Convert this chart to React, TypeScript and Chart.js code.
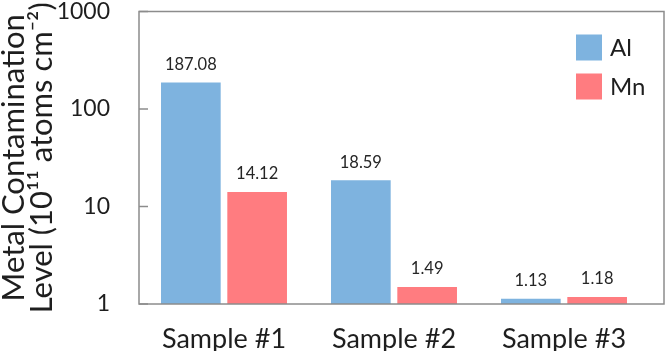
import React, { useEffect, useRef } from "react";
import { Chart, registerables } from "chart.js";

Chart.register(...registerables);

const categories = ["Sample #1", "Sample #2", "Sample #3"];
const alValues = [187.08, 18.59, 1.13];
const mnValues = [14.12, 1.49, 1.18];
const yTicks = [1, 10, 100, 1000];
const seriesNames = ["Al", "Mn"];
const seriesColors = ["#7EB3DF", "#FF7C80"];
const yTitle = ["Metal Contamination", "Level (10\u00B9\u00B9 atoms cm\u207B\u00B2)"];

const FONT = "Lato, 'DejaVu Sans', sans-serif";
const TEXT = "#1e1e1e";

const overlay = {
  id: "overlay",
  afterDatasetsDraw(chart: any) {
    const ctx = chart.ctx;
    const { left, top, bottom } = chart.chartArea;
    ctx.save();
    // plot border
    ctx.strokeStyle = "#8c8c8c";
    ctx.lineWidth = 1.5;
    const borderRight = chart.width - 3;
    ctx.strokeRect(left, top, borderRight - left, bottom - top);
    // inward ticks on the y axis
    const ys = chart.scales.y;
    yTicks.forEach((v) => {
      const py = ys.getPixelForValue(v);
      ctx.beginPath();
      ctx.moveTo(left, py);
      ctx.lineTo(left + 9, py);
      ctx.stroke();
    });
    // data labels
    ctx.font = `16.5px ${FONT}`;
    ctx.fillStyle = "#262626";
    ctx.textAlign = "center";
    ctx.textBaseline = "middle";
    chart.data.datasets.forEach((ds: any, i: number) => {
      const meta = chart.getDatasetMeta(i);
      meta.data.forEach((bar: any, j: number) => {
        ctx.fillText(Number(ds.data[j]).toFixed(2), bar.x, bar.y - 18);
      });
    });
    // legend
    const lx = borderRight - 88;
    const ly = top + 23;
    ctx.font = `24px ${FONT}`;
    ctx.textAlign = "left";
    seriesNames.forEach((name, i) => {
      const y0 = ly + i * 39;
      ctx.fillStyle = seriesColors[i];
      ctx.fillRect(lx, y0, 26, 26);
      ctx.fillStyle = TEXT;
      ctx.fillText(name, lx + 34, y0 + 14);
    });
    ctx.restore();
  },
};

export default function App() {
  const ref = useRef<HTMLCanvasElement | null>(null);
  useEffect(() => {
    if (!ref.current) return;
    const chart = new Chart(ref.current, {
      type: "bar",
      data: {
        labels: categories,
        datasets: [
          {
            label: seriesNames[0],
            data: alValues,
            backgroundColor: seriesColors[0],
            borderWidth: 0,
          },
          {
            label: seriesNames[1],
            data: mnValues,
            backgroundColor: seriesColors[1],
            borderWidth: 0,
          },
        ],
      },
      options: {
        animation: false,
        responsive: false,
        maintainAspectRatio: false,
        layout: { padding: { top: 11.5, right: 18, left: 0, bottom: 0 } },
        datasets: {
          bar: { categoryPercentage: 0.78, barPercentage: 0.9 },
        },
        plugins: {
          legend: { display: false },
          tooltip: { enabled: false },
        },
        scales: {
          x: {
            grid: { display: false },
            border: { display: false },
            ticks: {
              color: TEXT,
              font: { family: FONT, size: 27 },
              padding: 11.5,
              maxRotation: 0,
            },
            afterFit(scale: any) {
              scale.height = 47;
            },
          },
          y: {
            type: "logarithmic",
            min: 1,
            max: 1000,
            grid: { display: false },
            border: { display: false },
            ticks: {
              color: TEXT,
              font: { family: FONT, size: 23, lineHeight: 1 },
              padding: 21,
              callback: (v: any) => String(v),
            },
            afterBuildTicks(scale: any) {
              scale.ticks = yTicks.map((v) => ({ value: v }));
            },
            afterFit(scale: any) {
              scale.width = 139;
              scale.paddingTop = 0;
              scale.paddingBottom = 0;
            },
            title: {
              display: true,
              text: yTitle,
              color: TEXT,
              font: { family: FONT, size: 31, lineHeight: 0.9 },
              padding: { top: 0.5, bottom: 0 },
            },
          },
        },
      },
      plugins: [overlay],
    });
    return () => chart.destroy();
  }, []);
  return (
    <div style={{ position: "fixed", left: 0, top: 0, width: 667, height: 351, background: "#fff" }}>
      <canvas ref={ref} width={667} height={351} />
    </div>
  );
}
